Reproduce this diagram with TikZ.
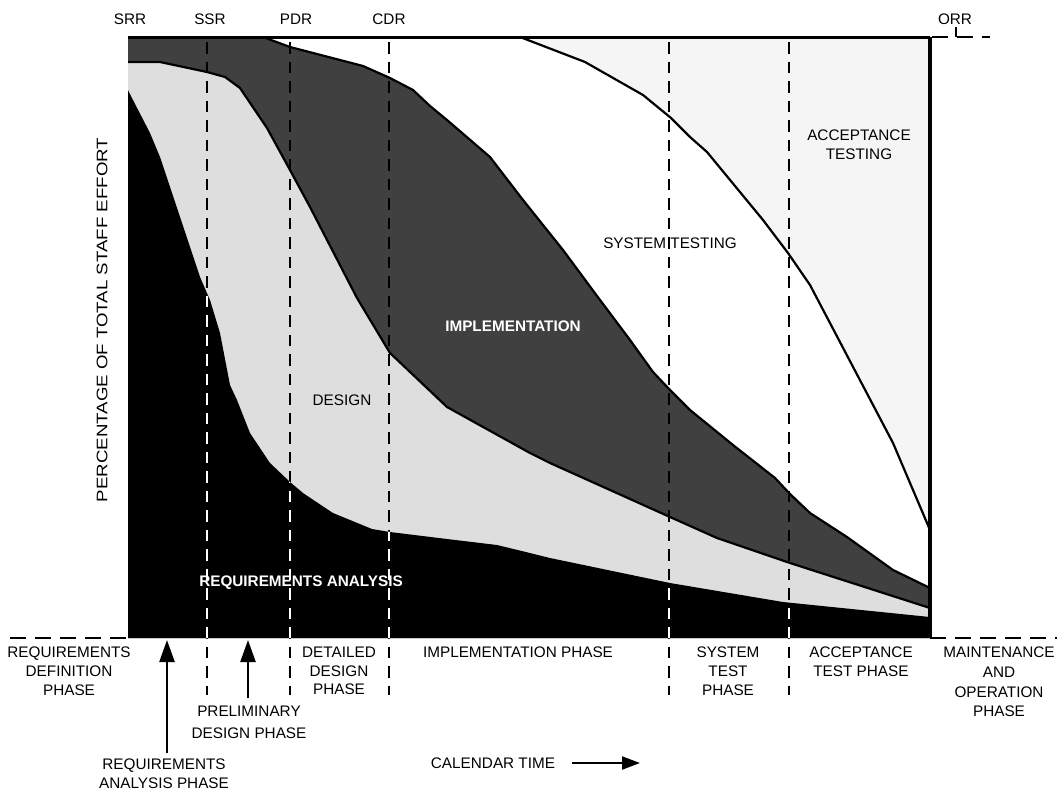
\documentclass[tikz,border=0pt]{standalone}
\usepackage{fontspec}
\setmainfont{Liberation Sans}
\usetikzlibrary{arrows.meta}
\definecolor{accfill}{HTML}{F5F5F5}
\definecolor{implfill}{HTML}{404040}
\definecolor{desfill}{HTML}{DEDEDE}
\def\ReqAreaPath{(128,90) -- (133,100) -- (150,133) -- (160,157) -- (170,187) -- (180,217) -- (200,277) -- (210,300) -- (220,333) -- (230,385) -- (237,400) -- (250,433) -- (270,463) -- (290,482) -- (303,493) -- (333,513) -- (372,529) -- (390,532) -- (447,539) -- (497,545) -- (530,553) -- (550,558) -- (670,583) -- (783,602) -- (930,617) -- (930,638) -- (128,638) -- cycle}
\begin{document}
\begin{tikzpicture}[x=1pt,y=-1pt,
  lbl/.style={font=\fontsize{15.3}{18.6}\selectfont, align=center, inner sep=0pt},
  boldlbl/.style={lbl, font=\fontsize{15.3}{18.6}\selectfont\bfseries, text=white},
  vdash/.style={line width=2.7pt, dash pattern=on 11.5pt off 8pt},
  hdash/.style={line width=2.8pt, dash pattern=on 16pt off 9pt},
  curveline/.style={line width=2.2pt, line join=round},
  arr/.style={line width=2.4pt, -{Triangle[length=22pt,width=15pt]}}]
\useasboundingbox (0,0) rectangle (1057,793);

% areas
\fill[accfill] (128,37) rectangle (930,638);
\fill[white] (520,37) -- (585,62) -- (643,95) -- (671,118) -- (690,137) -- (707,152) -- (763,220) -- (788,253) -- (810,285) -- (893,443) -- (930,530) -- (930,638) -- (128,638) -- (128,37) -- cycle;
\fill[implfill] (128,37) -- (263,37) -- (290,47) -- (363,66) -- (390,78) -- (413,90) -- (430,106) -- (447,120) -- (490,157) -- (523,200) -- (563,250) -- (600,300) -- (630,340) -- (653,372) -- (670,390) -- (690,410) -- (733,445) -- (775,478) -- (790,494) -- (810,513) -- (847,537) -- (893,570) -- (930,588) -- (930,638) -- (128,638) -- cycle;
\fill[desfill] (128,62) -- (160,62) -- (207,72) -- (225,77) -- (240,88) -- (267,128) -- (290,170) -- (310,207) -- (357,298) -- (390,353) -- (447,407) -- (530,453) -- (550,463) -- (670,517) -- (717,538) -- (790,563) -- (930,608) -- (930,638) -- (128,638) -- cycle;
\fill[black] \ReqAreaPath;

% curve outlines
\draw[curveline] (520,37) -- (585,62) -- (643,95) -- (671,118) -- (690,137) -- (707,152) -- (763,220) -- (788,253) -- (810,285) -- (893,443) -- (930,530);
\draw[curveline] (263,37) -- (290,47) -- (363,66) -- (390,78) -- (413,90) -- (430,106) -- (447,120) -- (490,157) -- (523,200) -- (563,250) -- (600,300) -- (630,340) -- (653,372) -- (670,390) -- (690,410) -- (733,445) -- (775,478) -- (790,494) -- (810,513) -- (847,537) -- (893,570) -- (930,588);
\draw[curveline] (128,62) -- (160,62) -- (207,72) -- (225,77) -- (240,88) -- (267,128) -- (290,170) -- (310,207) -- (357,298) -- (390,353) -- (447,407) -- (530,453) -- (550,463) -- (670,517) -- (717,538) -- (790,563) -- (930,608);

% milestone dashed lines
\foreach \x in {207,290,389,669,789}
  \draw[vdash] (\x,42) -- (\x,695);
\begin{scope}
  \clip \ReqAreaPath;
  \foreach \x in {207,290,389,669,789}
    \draw[vdash, white] (\x,42) -- (\x,695);
\end{scope}

% frame
\draw[line width=3pt] (128,37) -- (930,37);
\draw[line width=3.2pt] (930,37) -- (930,638);
\draw[hdash] (932,37) -- (990,37);
\draw[hdash] (10,638) -- (128,638);
\draw[hdash] (930,638) -- (1057,638);

% top milestone labels
\node[lbl] (srr) at (130,19) {SRR};
\node[lbl] (ssr) at (210,19) {SSR};
\node[lbl] (pdr) at (296,19) {PDR};
\node[lbl] (cdr) at (389,19) {CDR};
\node[lbl] (orr) at (955,19) {ORR};
\coordinate (orrtop) at (956,27);
\coordinate (orrline) at (956,37);
\draw[line width=2.6pt] (orrtop) -- (orrline);

% area labels
\node[boldlbl] (impl) at (513,326) {IMPLEMENTATION};
\node[lbl] (design) at (342,400) {DESIGN};
\node[boldlbl] (reqan) at (301,583) {REQUIREMENTS ANALYSIS};
\node[lbl] (systesting) at (670,243) {SYSTEM TESTING};
\node[lbl, anchor=north] (acctesting) at (859,130) {ACCEPTANCE\\TESTING};

% axis label
\node[lbl, rotate=90] (yaxis) at (102,320) {\scalebox{1.22}[1]{PERCENTAGE OF TOTAL STAFF EFFORT}};

% phase labels
\node[lbl, anchor=north] (reqdef) at (69,647) {REQUIREMENTS\\DEFINITION\\PHASE};
\node[lbl, anchor=north] (detdes) at (339,647) {DETAILED\\DESIGN\\PHASE};
\node[lbl, anchor=north] (impphase) at (518,647) {IMPLEMENTATION PHASE};
\node[lbl, anchor=north] (sysphase) at (728,647) {SYSTEM\\TEST\\PHASE};
\node[lbl, anchor=north] (accphase) at (861,647) {ACCEPTANCE\\TEST PHASE};
\node[lbl, anchor=north, font=\fontsize{15.3}{19.6}\selectfont] (maint) at (999,647) {MAINTENANCE\\AND\\OPERATION\\PHASE};
\node[lbl, anchor=north, font=\fontsize{15.3}{21.5}\selectfont] (prelim) at (249,706) {PRELIMINARY\\DESIGN PHASE};
\node[lbl, anchor=north] (reqanph) at (164,759) {REQUIREMENTS\\ANALYSIS PHASE};

% arrows
\coordinate (a1s) at (167,753);
\coordinate (a1e) at (167,640);
\coordinate (a2s) at (248,698);
\coordinate (a2e) at (248,640);
\draw[arr] (a1s) -- (a1e);
\draw[arr] (a2s) -- (a2e);

\node[lbl] (caltime) at (493,763) {CALENDAR TIME};
\coordinate (cals) at (572,763);
\coordinate (cale) at (640,763);
\draw[line width=2.2pt, -{Triangle[length=18pt,width=13pt]}] (cals) -- (cale);
\end{tikzpicture}
\end{document}
